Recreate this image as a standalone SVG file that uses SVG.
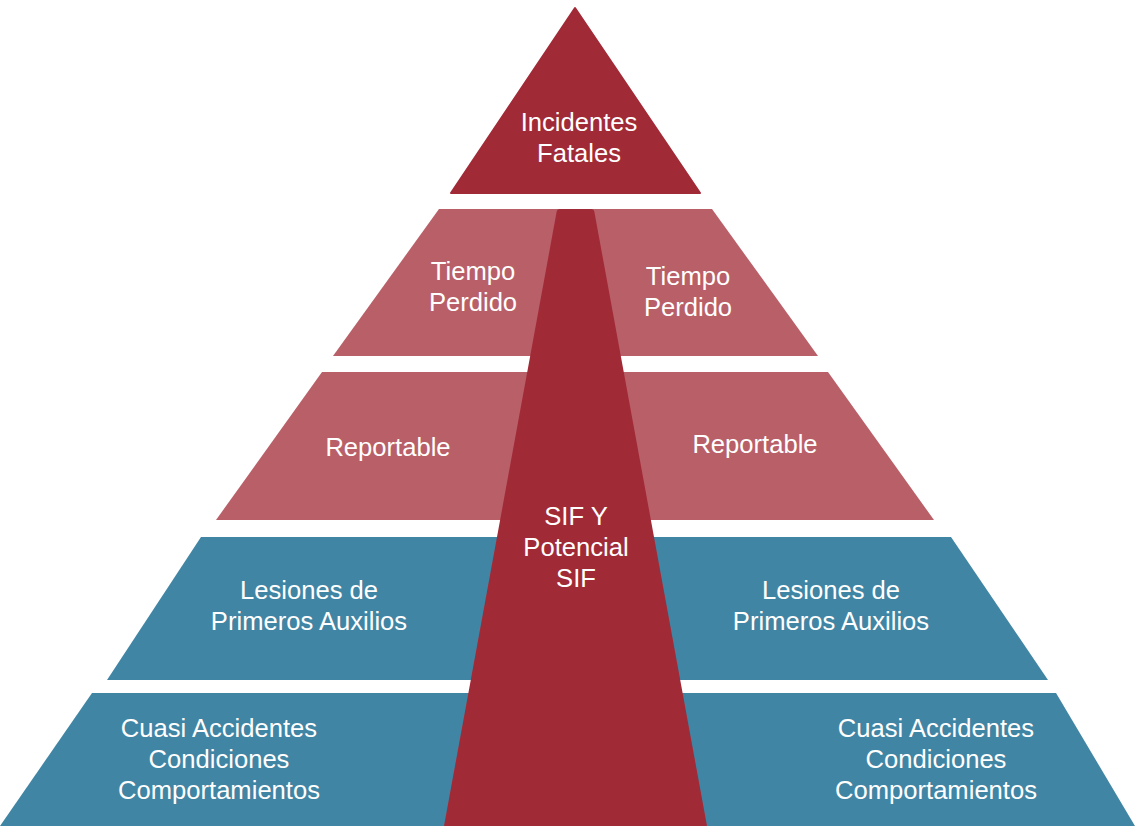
<svg xmlns="http://www.w3.org/2000/svg" width="1135" height="826" viewBox="0 0 1135 826">
<style>
.dark{fill:#A12A37}
.light{fill:#B95F68}
.teal{fill:#4185A4}
text{font-family:"Liberation Sans",Arial,sans-serif;font-size:25.6px;fill:#FFFFFF;text-anchor:middle}
</style>
<rect width="1135" height="826" fill="#FFFFFF"/>
<g id="top">
<path class="dark" d="M575,8 L700,193 L451,193 Z" stroke="#A12A37" stroke-width="2" stroke-linejoin="round"/>
<text x="579" y="131">Incidentes</text>
<text x="579" y="162">Fatales</text>
</g>
<g id="band1">
<path class="light" d="M439,209 L712,209 L818,356 L333,356 Z"/>
<text x="473" y="280">Tiempo</text>
<text x="473" y="311">Perdido</text>
<text x="688" y="285">Tiempo</text>
<text x="688" y="316">Perdido</text>
</g>
<g id="band2">
<path class="light" d="M322,372 L828,372 L934,520 L216,520 Z"/>
<text x="388" y="456">Reportable</text>
<text x="755" y="453">Reportable</text>
</g>
<g id="band3">
<path class="teal" d="M201,537 L951,537 L1048,680 L107,680 Z"/>
<text x="309" y="599">Lesiones de</text>
<text x="309" y="630">Primeros Auxilios</text>
<text x="831" y="599">Lesiones de</text>
<text x="831" y="630">Primeros Auxilios</text>
</g>
<g id="band4">
<path class="teal" d="M92,693 L1056,693 L1135,826 L0,826 Z"/>
<text x="219" y="737">Cuasi Accidentes</text>
<text x="219" y="768">Condiciones</text>
<text x="219" y="799">Comportamientos</text>
<text x="936" y="737">Cuasi Accidentes</text>
<text x="936" y="768">Condiciones</text>
<text x="936" y="799">Comportamientos</text>
</g>
<g id="wedge">
<path class="dark" d="M560,209 L591,209 Q594,209 594.4,212 L707,826 L444,826 L556.6,212 Q557,209 560,209 Z"/>
<text x="576" y="525">SIF Y</text>
<text x="576" y="556">Potencial</text>
<text x="576" y="587">SIF</text>
</g>
<g id="connectors"></g>
</svg>
